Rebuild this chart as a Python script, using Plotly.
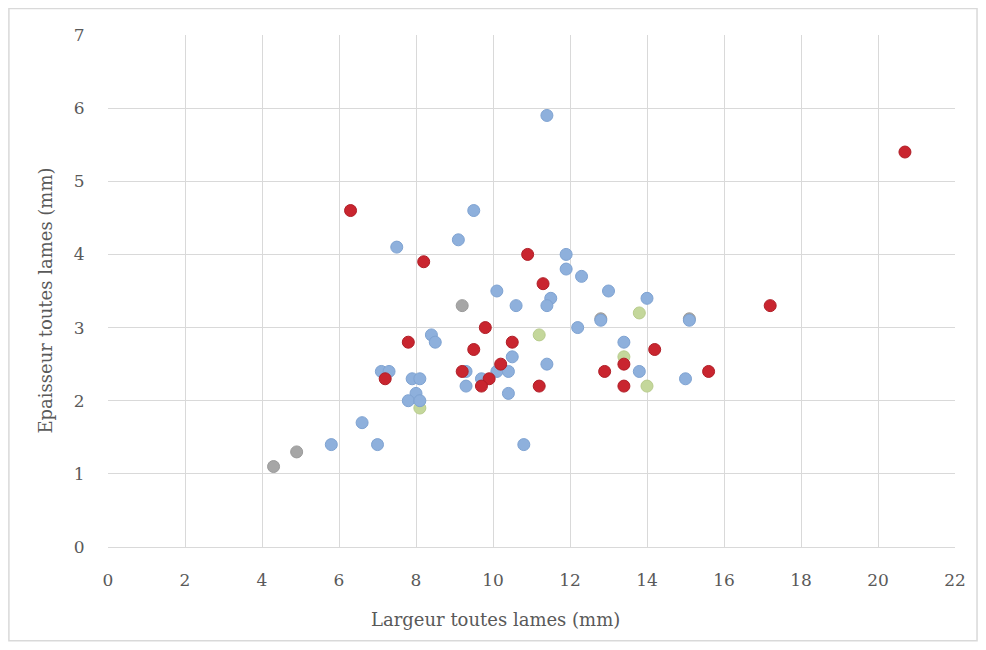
import plotly.graph_objects as go

# blue series
blue_x = [11.4, 9.5, 9.1, 7.5, 11.9, 11.9, 12.3, 10.1, 13.0, 14.0, 11.5, 11.4, 10.6,
          15.1, 12.8, 12.2, 8.4, 8.5, 13.4, 10.5, 10.1, 10.4, 9.3, 7.1, 7.3, 7.9, 8.1,
          9.7, 9.3, 10.4, 8.0, 7.8, 8.1, 6.6, 5.8, 7.0, 10.8, 11.4, 13.8, 15.0]
blue_y = [5.9, 4.6, 4.2, 4.1, 4.0, 3.8, 3.7, 3.5, 3.5, 3.4, 3.4, 3.3, 3.3,
          3.1, 3.1, 3.0, 2.9, 2.8, 2.8, 2.6, 2.4, 2.4, 2.4, 2.4, 2.4, 2.3, 2.3,
          2.3, 2.2, 2.1, 2.1, 2.0, 2.0, 1.7, 1.4, 1.4, 1.4, 2.5, 2.4, 2.3]

# red series
red_x = [20.7, 6.3, 10.9, 8.2, 11.3, 17.2, 9.8, 10.5, 7.8, 9.5, 14.2, 10.2, 13.4,
         9.2, 12.9, 15.6, 7.2, 9.9, 9.7, 11.2, 13.4]
red_y = [5.4, 4.6, 4.0, 3.9, 3.6, 3.3, 3.0, 2.8, 2.8, 2.7, 2.7, 2.5, 2.5,
         2.4, 2.4, 2.4, 2.3, 2.3, 2.2, 2.2, 2.2]

# green series
green_x = [13.8, 11.2, 13.4, 14.0, 8.1]
green_y = [3.2, 2.9, 2.6, 2.2, 1.9]

# gray series
gray_x = [4.3, 4.9, 9.2, 12.8, 15.1]
gray_y = [1.1, 1.3, 3.3, 3.12, 3.12]

x_ticks = list(range(0, 23, 2))
y_ticks = list(range(0, 8))

SERIF = "DejaVu Serif"

fig = go.Figure()

for xs, ys, col, line in [
    (gray_x, gray_y, "#a6a6a6", "#9a9a9a"),
    (green_x, green_y, "#c4d79b", "#b8cc8c"),
    (blue_x, blue_y, "#8eb0dc", "#7fa3d2"),
    (red_x, red_y, "#c9252f", "#b01e27"),
]:
    fig.add_trace(go.Scatter(
        x=xs, y=ys, mode="markers",
        marker=dict(size=12, color=col, line=dict(color=line, width=1)),
        showlegend=False,
    ))

fig.update_xaxes(
    range=[0, 22], tickvals=x_ticks, showgrid=True, gridcolor="#d9d9d9",
    zeroline=False, showline=True, linecolor="#d9d9d9", mirror=False,
    ticks="outside", ticklen=18, tickcolor="rgba(0,0,0,0)",
    tickfont=dict(family=SERIF, size=17, color="#595959"),
)
fig.update_yaxes(
    range=[0, 7], tickvals=y_ticks, showgrid=True, gridcolor="#d9d9d9",
    zeroline=False, showline=False,
    ticks="outside", ticklen=19, tickcolor="rgba(0,0,0,0)",
    tickfont=dict(family=SERIF, size=17, color="#595959"),
)

fig.update_layout(
    width=986, height=650,
    margin=dict(l=100, r=39, t=27, b=111),
    plot_bgcolor="white", paper_bgcolor="white",
    annotations=[
        dict(text="Largeur toutes lames (mm)", xref="paper", yref="paper",
             x=0.457, y=-0.142, showarrow=False, xanchor="center", yanchor="middle",
             font=dict(family=SERIF, size=18, color="#595959")),
        dict(text="Epaisseur toutes lames (mm)", xref="paper", yref="paper",
             x=-0.074, y=0.482, showarrow=False, textangle=-90,
             xanchor="center", yanchor="middle",
             font=dict(family=SERIF, size=18, color="#595959")),
    ],
    shapes=[
        dict(type="rect", xref="paper", yref="paper",
             x0=-0.117, x1=1.026, y0=-0.183, y1=1.052,
             line=dict(color="#d9d9d9", width=1.5), layer="below"),
    ],
)

fig.write_html("out.html")
